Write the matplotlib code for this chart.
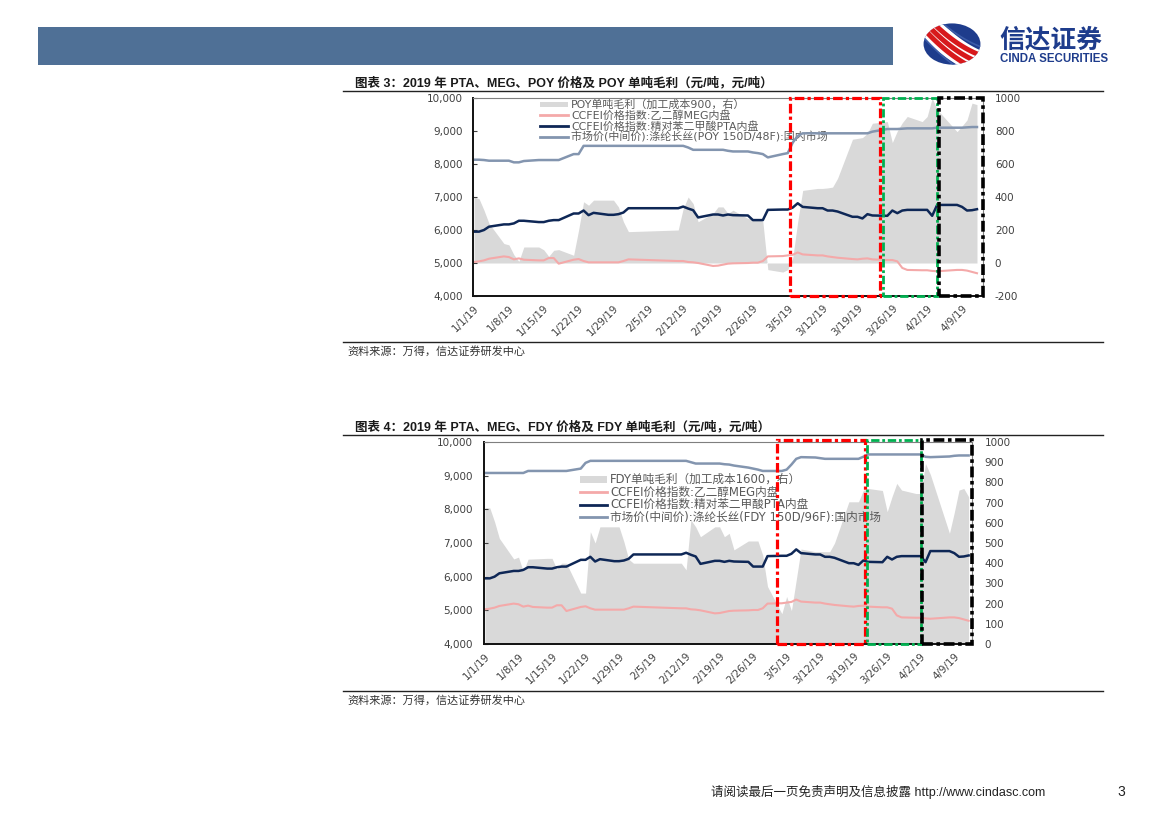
import matplotlib
matplotlib.use('Agg')
import matplotlib.pyplot as plt
import matplotlib.transforms as mtransforms
import matplotlib.dates as mdates
from matplotlib.patches import Rectangle, Ellipse
from matplotlib.lines import Line2D
from matplotlib.ticker import StrMethodFormatter
import numpy as np
import pandas as pd

plt.rcParams['font.family'] = ['DejaVu Sans', 'Noto Sans CJK SC']
plt.rcParams['axes.unicode_minus'] = False

# ---------------- data ----------------
dates = ['2019-01-01', '2019-01-02', '2019-01-03', '2019-01-04', '2019-01-07', '2019-01-08', '2019-01-09',
         '2019-01-10', '2019-01-11', '2019-01-14', '2019-01-15', '2019-01-16', '2019-01-17', '2019-01-18',
         '2019-01-21', '2019-01-22', '2019-01-23', '2019-01-24', '2019-01-25', '2019-01-28', '2019-01-29',
         '2019-01-30', '2019-01-31',
         '2019-02-01', '2019-02-11', '2019-02-12', '2019-02-13', '2019-02-14', '2019-02-15', '2019-02-18',
         '2019-02-19', '2019-02-20', '2019-02-21', '2019-02-22', '2019-02-25', '2019-02-26', '2019-02-27',
         '2019-02-28',
         '2019-03-01', '2019-03-04', '2019-03-05', '2019-03-06', '2019-03-07', '2019-03-08', '2019-03-11',
         '2019-03-12', '2019-03-13', '2019-03-14', '2019-03-15', '2019-03-18', '2019-03-19', '2019-03-20',
         '2019-03-21', '2019-03-22', '2019-03-25', '2019-03-26', '2019-03-27', '2019-03-28', '2019-03-29',
         '2019-04-01', '2019-04-02', '2019-04-03', '2019-04-04', '2019-04-08', '2019-04-09', '2019-04-10',
         '2019-04-11', '2019-04-12']

meg = [5030, 5050, 5080, 5130, 5200, 5180, 5110, 5140, 5100, 5080, 5080, 5150, 5150, 4980, 5100, 5120, 5060,
       5020, 5020, 5020, 5020, 5020, 5060,
       5110, 5060, 5060, 5030, 5020, 5000, 4910, 4920, 4950, 4980, 4990, 5000, 5010, 5010, 5060,
       5200, 5210, 5230, 5250, 5320, 5260, 5230, 5230, 5200, 5180, 5160, 5120, 5110, 5130, 5140, 5110,
       5090, 5090, 5050, 4850, 4790,
       4780, 4780, 4760, 4750, 4790, 4790, 4770, 4730, 4690]

pta = [5950, 5950, 6000, 6100, 6170, 6170, 6200, 6280, 6280, 6240, 6240, 6280, 6300, 6300, 6500, 6500, 6590,
       6450, 6520, 6460, 6460, 6480, 6530,
       6660, 6660, 6710, 6650, 6600, 6380, 6470, 6470, 6440, 6470, 6450, 6440, 6300, 6300, 6300,
       6610, 6620, 6620, 6680, 6810, 6700, 6660, 6660, 6590, 6590, 6560, 6400, 6400, 6350, 6480, 6440,
       6430, 6590, 6510, 6590, 6610,
       6610, 6610, 6430, 6760, 6760, 6700, 6590, 6600, 6630]

poy_price = [8130, 8130, 8120, 8100, 8100, 8100, 8050, 8050, 8090, 8120, 8120, 8120, 8120, 8120, 8300, 8300,
             8550, 8550, 8550, 8550, 8550, 8550, 8550,
             8550, 8550, 8550, 8500, 8430, 8430, 8430, 8430, 8430, 8400, 8380, 8380, 8350, 8330, 8300,
             8200, 8300, 8330, 8650, 8850, 8930, 8930, 8930, 8930, 8930, 8930, 8930, 8930, 8930, 8930, 8980,
             9060, 9060, 9060, 9070, 9080,
             9080, 9080, 9080, 9100, 9100, 9100, 9110, 9120, 9120]

poy_profit = [400, 390, 320, 240, 118, 110, 50, 10, 97, 97, 80, 40, 77, 81, 47, 200, 371, 350, 381, 381, 381,
              340, 250,
              190, 200, 330, 400, 360, 250, 300, 340, 340, 300, 320, 270, 270, 270, 250,
              -40, -55, -40, 30, 250, 440, 452, 452, 455, 460, 513, 750, 755, 760, 786, 847, 857, 730, 800,
              850, 888,
              857, 888, 1000, 930, 796, 830, 867, 969, 960]

fdy_price = [9080, 9080, 9080, 9080, 9080, 9080, 9080, 9140, 9140, 9140, 9140, 9140, 9140, 9140, 9210, 9380,
             9440, 9440, 9440, 9440, 9440, 9440, 9440,
             9440, 9440, 9440, 9400, 9360, 9360, 9360, 9360, 9340, 9330, 9300, 9240, 9210, 9180, 9140,
             9140, 9140, 9180, 9330, 9500, 9550, 9540, 9520, 9500, 9500, 9500, 9500, 9500, 9500, 9560, 9630,
             9630, 9630, 9630, 9630, 9630,
             9630, 9630, 9560, 9550, 9570, 9590, 9600, 9600, 9600]

fdy_profit = [674, 674, 605, 523, 421, 430, 359, 420, 421, 424, 424, 370, 400, 400, 252, 252, 556, 500, 580,
              580, 580, 507, 420,
              400, 400, 367, 614, 580, 531, 580, 580, 531, 548, 466, 510, 510, 510, 440,
              285, 150, 235, 165, 317, 470, 457, 457, 457, 457, 500, 704, 704, 704, 760, 770, 760, 655, 729,
              795, 762,
              745, 745, 893, 840, 548, 650, 762, 770, 729]

tick_dates = ['2019-01-01', '2019-01-08', '2019-01-15', '2019-01-22', '2019-01-29', '2019-02-05', '2019-02-12',
              '2019-02-19', '2019-02-26', '2019-03-05', '2019-03-12', '2019-03-19', '2019-03-26', '2019-04-02',
              '2019-04-09']
tick_labels = ['1/1/19', '1/8/19', '1/15/19', '1/22/19', '1/29/19', '2/5/19', '2/12/19', '2/19/19', '2/26/19',
               '3/5/19', '3/12/19', '3/19/19', '3/26/19', '4/2/19', '4/9/19']

left_ticks = [4000, 5000, 6000, 7000, 8000, 9000, 10000]
right_ticks1 = [-200, 0, 200, 400, 600, 800, 1000]
right_ticks2 = [0, 100, 200, 300, 400, 500, 600, 700, 800, 900, 1000]

title1 = '图表 3：2019 年 PTA、MEG、POY 价格及 POY 单吨毛利（元/吨，元/吨）'
title2 = '图表 4：2019 年 PTA、MEG、FDY 价格及 FDY 单吨毛利（元/吨，元/吨）'
source = '资料来源：万得，信达证券研发中心'
legend1 = ['POY单吨毛利（加工成本900，右）', 'CCFEI价格指数:乙二醇MEG内盘',
           'CCFEI价格指数:精对苯二甲酸PTA内盘', '市场价(中间价):涤纶长丝(POY 150D/48F):国内市场']
legend2 = ['FDY单吨毛利（加工成本1600，右）', 'CCFEI价格指数:乙二醇MEG内盘',
           'CCFEI价格指数:精对苯二甲酸PTA内盘', '市场价(中间价):涤纶长丝(FDY 150D/96F):国内市场']

boxes1 = [('2019-03-05 12:00', '2019-03-23 12:00', '#FF0000', 2.3),
          ('2019-03-24 02:00', '2019-04-03 22:00', '#00B050', 2.0),
          ('2019-04-04 10:00', '2019-04-13 05:00', '#000000', 2.6)]
boxes2 = [('2019-03-02 22:00', '2019-03-21 07:00', '#FF0000', 2.3),
          ('2019-03-21 19:00', '2019-04-02 00:00', '#00B050', 2.0),
          ('2019-04-02 07:00', '2019-04-12 17:00', '#000000', 2.6)]

# ---------------- figure ----------------
W, H = 1169, 827
fig = plt.figure(figsize=(W / 100, H / 100), dpi=100)
fig.patch.set_facecolor('white')


def fx(p):
    return p / W


def fy(p):
    return 1 - p / H


CJK_ARIAL = ['Liberation Sans', 'Noto Sans CJK SC']
C_GRAY = '#D9D9D9'
C_MEG = '#F4A9A9'
C_PTA = '#0E2756'
C_PRICE = '#8395AF'
TXT = '#404040'
NAVY = '#1E3C8C'

# header bar
fig.patches.append(Rectangle((fx(38), fy(65)), fx(893) - fx(38), fy(27) - fy(65),
                             transform=fig.transFigure, facecolor='#4F7096', edgecolor='none'))

# logo (ellipse with red swoosh bands)
axl = fig.add_axes([fx(923), fy(65), fx(981) - fx(923), fy(23) - fy(65)])
axl.set_xlim(-1.02, 1.02)
axl.set_ylim(-1.02, 1.02)
axl.axis('off')
disk = Ellipse((0, 0), 2, 2, facecolor=NAVY, edgecolor='none')
axl.add_patch(disk)
xs = np.linspace(-1.3, 1.3, 100)
base = 0.85 - 1.45 * (xs + 0.85) + 0.25 * (xs + 0.85) ** 2
for off, col, lw in [(0.05, 'white', 17), (-0.33, '#D7191C', 3.6), (0.05, '#D7191C', 3.6),
                     (0.43, '#D7191C', 3.6), (0.85, '#3C5CA8', 1.2), (-0.75, '#3C5CA8', 1.2)]:
    ln, = axl.plot(xs, base + off, color=col, lw=lw, solid_capstyle='butt')
    ln.set_clip_path(disk)
fig.text(fx(999), fy(39.5), '信达证券', fontsize=18.5, fontweight='bold', color=NAVY,
         family=['Noto Sans CJK SC'], va='center', ha='left')
fig.text(fx(1000), fy(58.5), 'CINDA SECURITIES', fontsize=8.3, fontweight='bold', color=NAVY,
         family=['Liberation Sans'], va='center', ha='left')

dt = pd.to_datetime(dates)


def hline(y, x0=343, x1=1103, lw=1.0):
    fig.add_artist(Line2D([fx(x0), fx(x1)], [fy(y), fy(y)], transform=fig.transFigure,
                          color='#222222', lw=lw))


def draw_chart(px, price, profit, rlim, rticks, labels, leg, boxes, xlim, pads, box_top):
    x0, y0, x1, y1 = px
    ax = fig.add_axes([fx(x0), fy(y1), fx(x1) - fx(x0), fy(y0) - fy(y1)])
    axr = ax.twinx()
    axr.fill_between(dt, profit, 0, color=C_GRAY, lw=0, zorder=1)
    ax.set_zorder(axr.get_zorder() + 1)
    ax.patch.set_visible(False)

    ax.plot(dt, meg, color=C_MEG, lw=1.5, zorder=2)
    ax.plot(dt, pta, color=C_PTA, lw=1.8, zorder=2)
    ax.plot(dt, price, color=C_PRICE, lw=1.8, zorder=2)

    ax.set_xlim(pd.Timestamp(xlim[0]), pd.Timestamp(xlim[1]))
    ax.set_ylim(4000, 10000)
    axr.set_ylim(*rlim)
    ax.set_yticks(left_ticks)
    ax.yaxis.set_major_formatter(StrMethodFormatter('{x:,.0f}'))
    axr.set_yticks(rticks)
    ax.set_xticks(pd.to_datetime(tick_dates))
    ax.set_xticklabels(tick_labels, rotation=45, ha='right', va='top', rotation_mode='anchor')
    off = mtransforms.ScaledTranslation(0.045, 0, fig.dpi_scale_trans)
    for lbl in ax.get_xticklabels():
        lbl.set_transform(lbl.get_transform() + off)

    ax.tick_params(axis='y', direction='in', length=3, width=0.8, color='#404040',
                   pad=pads[0], labelsize=7.5, labelcolor=TXT)
    ax.tick_params(axis='x', length=0, pad=5, labelsize=7.4, labelcolor=TXT)
    axr.tick_params(axis='y', length=0, pad=pads[1], labelsize=7.5, labelcolor=TXT)
    for s in ['left', 'bottom']:
        ax.spines[s].set_color('#111111')
        ax.spines[s].set_linewidth(1.4)
    for s in ['top', 'right']:
        ax.spines[s].set_color('#7F7F7F')
        ax.spines[s].set_linewidth(0.8)
    for s in axr.spines.values():
        s.set_visible(False)

    # legend (manual, inside plot)
    hx0, hx1, tx, rows, ph, fs = leg
    cols = [None, C_MEG, C_PTA, C_PRICE]
    for i, lab in enumerate(labels):
        yc = rows[i]
        if i == 0:
            r = Rectangle((fx(hx0), fy(yc + ph / 2)), fx(hx1) - fx(hx0), ph / H,
                          transform=fig.transFigure, facecolor=C_GRAY, edgecolor='none', zorder=1.5)
            ax.add_artist(r)
            r.set_clip_on(False)
        else:
            l = Line2D([fx(hx0), fx(hx1)], [fy(yc), fy(yc)], transform=fig.transFigure,
                       color=cols[i], lw=2.0, zorder=1.5)
            ax.add_artist(l)
            l.set_clip_on(False)
        t = ax.text(fx(tx), fy(yc), lab, transform=fig.transFigure, fontsize=fs, color='#595959',
                    va='center', ha='left', zorder=1.5)
        t.set_clip_on(False)

    # highlight boxes
    for (b0, b1, col, lw) in boxes:
        xs0 = mdates.date2num(pd.Timestamp(b0))
        xs1 = mdates.date2num(pd.Timestamp(b1))
        rect = Rectangle((xs0, 4000), xs1 - xs0, box_top - 4000, fill=False, edgecolor=col,
                         lw=lw, linestyle=(0, (3, 1, 1, 1)), zorder=5)
        ax.add_patch(rect)
        rect.set_clip_on(False)
    return ax


# chart 1
fig.text(fx(355), fy(83), title1, fontsize=9, fontweight='bold', family=CJK_ARIAL,
         color='#1A1A1A', va='center', ha='left')
hline(91)
draw_chart((473, 98, 983, 296), poy_price, poy_profit, (-200, 1000), right_ticks1, legend1,
           (540, 568, 571, [104.5, 115.3, 126.1, 136.9], 5, 7.9), boxes1,
           ('2018-12-31 19:00', '2019-04-13 05:00'), (7.5, 8.5), 10000)
hline(342)
fig.text(fx(347), fy(351), source, fontsize=8, color='#333333', family=['Noto Sans CJK SC'],
         va='center', ha='left')

# chart 2
fig.text(fx(355), fy(427), title2, fontsize=9, fontweight='bold', family=CJK_ARIAL,
         color='#1A1A1A', va='center', ha='left')
hline(435)
draw_chart((484, 442, 972, 644), fdy_price, fdy_profit, (0, 1000), right_ticks2, legend2,
           (580, 607, 610, [479.5, 492, 504.5, 517], 6.5, 8.4), boxes2,
           ('2018-12-31 19:00', '2019-04-12 17:00'), (8, 9), 10050)
hline(691)
fig.text(fx(347), fy(700), source, fontsize=8, color='#333333', family=['Noto Sans CJK SC'],
         va='center', ha='left')

# footer
fig.text(fx(711), fy(792), '请阅读最后一页免责声明及信息披露 http://www.cindasc.com', fontsize=9,
         color='#222222', family=CJK_ARIAL, va='center', ha='left')
fig.text(fx(1117), fy(792), '3', fontsize=10, color='#222222', family=['Liberation Sans'],
         va='center', ha='left')

fig.savefig('out.png', dpi=100)
